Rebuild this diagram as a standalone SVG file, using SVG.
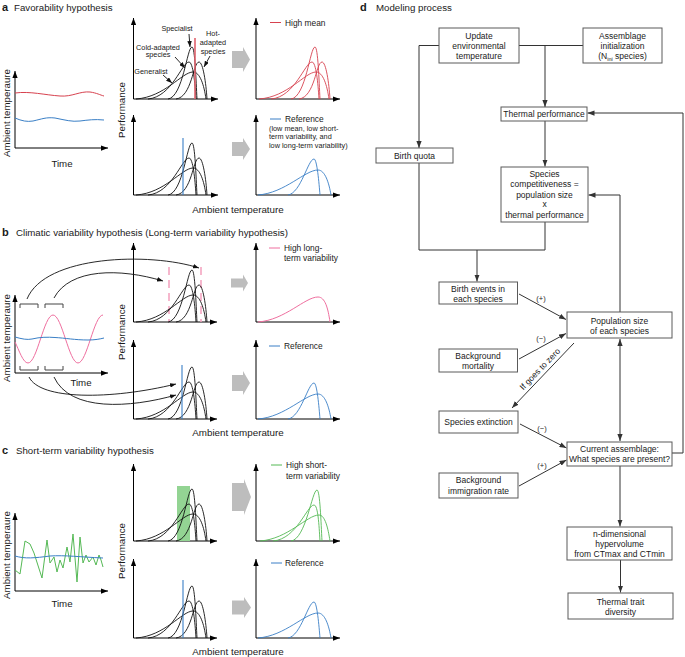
<svg xmlns="http://www.w3.org/2000/svg" width="685" height="657" viewBox="0 0 685 657">
<style>
text { font-family: "Liberation Sans", Arial, sans-serif; fill: #1a1a1a; }
.pl { font-size: 11px; font-weight: bold; }
.t { font-size: 9.7px; }
.ax { font-size: 9.8px; }
.sm { font-size: 7.3px; }
.lg { font-size: 8.4px; }
.bx { font-size: 8.5px; text-anchor: middle; }
.mid { text-anchor: middle; }
.axis { stroke: #000; stroke-width: 1; fill: none; marker-end: url(#ah); }
.thin { fill: none; stroke-width: 0.9; }
.gray { fill: #bdbdbd; }
.box rect { fill: #fff; stroke: #5a5a5a; stroke-width: 1; }
.cn { fill: none; stroke: #333; stroke-width: 1; }
.arr { marker-end: url(#dh); }
.lab { fill: none; stroke: #111; stroke-width: 0.9; marker-end: url(#sh); }
</style>
<defs>
<marker id="ah" viewBox="0 0 8 6" refX="8" refY="3" markerWidth="7" markerHeight="5.5" orient="auto" markerUnits="userSpaceOnUse"><path d="M0,0 L8,3 L0,6 z" fill="#000"/></marker>
<marker id="dh" viewBox="0 0 8 6" refX="8" refY="3" markerWidth="7" markerHeight="5.5" orient="auto-start-reverse" markerUnits="userSpaceOnUse"><path d="M0,0 L8,3 L0,6 z" fill="#333"/></marker>
<marker id="sh" viewBox="0 0 8 6" refX="8" refY="3" markerWidth="6" markerHeight="4.5" orient="auto" markerUnits="userSpaceOnUse"><path d="M0,0 L8,3 L0,6 z" fill="#111"/></marker>
<g id="c4" fill="none">
<path d="M136,0 C165,-2 182,-27 193,-27 C200,-27 204,-14 206,0"/>
<path d="M148,0 C172,-2 182,-37 189,-37 C193,-37 195,-16 196,0"/>
<path d="M168,0 C183,-2 187,-52 192,-52 C195,-52 196,-18 197,0"/>
<path d="M176,0 C192,-2 193,-37 199,-37 C203,-37 206,-16 207,0"/>
</g>
<g id="c2" fill="none">
<path d="M165,0 C178,-2 185,-36 191,-36 C194,-36 196,-12 197,0"/>
<path d="M135,0 C162,-2 182,-25 195,-25 C202,-25 206,-12 208,0"/>
</g>
<g id="c3" fill="none">
<path d="M168,0 C183,-2 189,-51 194,-51 C197,-51 198,-18 199,0"/>
<path d="M150,0 C174,-2 184,-36 191,-36 C195,-36 196,-16 197,0"/>
<path d="M137,0 C165,-2 184,-26 196,-26 C202,-26 205,-13 207,0"/>
</g>
</defs>

<!-- Panel a -->
<g id="panel-a">
<text x="2" y="11" class="pl">a</text>
<text x="14" y="11" class="t">Favorability hypothesis</text>
<path class="axis" d="M15,148 V71"/><path class="axis" d="M15,148 H108"/>
<path d="M15,93 C30,91 45,95 60,96 C72,97 80,91 90,92 C97,93 100,95 104,96" fill="none" stroke="#d7424f" stroke-width="1"/>
<path d="M15,118 C22,121 27,122 33,121 C42,119 46,117 55,118 C65,120 72,122 80,121 C88,120 95,119 104,120" fill="none" stroke="#3a7fc6" stroke-width="1"/>
<text class="t" transform="translate(9.5,113) rotate(-90)" text-anchor="middle">Ambient temperaure</text>
<text x="62" y="166.5" class="t mid">Time</text>
<path class="axis" d="M133.5,99 V18"/><path class="axis" d="M133.5,99 H218"/>
<path class="axis" d="M133.5,195 V115"/><path class="axis" d="M133.5,195 H218"/>
<path class="axis" d="M256,99 V18"/><path class="axis" d="M256,99 H340"/>
<path class="axis" d="M256,195 V115"/><path class="axis" d="M256,195 H340"/>
<use href="#c4" transform="translate(0,99)" stroke="#111" stroke-width="0.9"/>
<line x1="195" y1="38" x2="195" y2="99" stroke="#e0626d" stroke-width="1.6"/>
<use href="#c4" transform="translate(0,195)" stroke="#111" stroke-width="0.9"/>
<line x1="183" y1="138" x2="183" y2="195" stroke="#3a7fc6" stroke-width="1.1"/>
<text x="177" y="31" class="sm mid">Specialist</text>
<text x="158" y="49.5" class="sm mid">Cold-adapted</text>
<text x="158" y="57" class="sm mid">species</text>
<text x="151" y="73.5" class="sm mid">Generalist</text>
<text x="213" y="35.5" class="sm mid">Hot-</text>
<text x="213" y="44.5" class="sm mid">adapted</text>
<text x="213" y="53.5" class="sm mid">species</text>
<path class="lab" d="M189,34 L190,47"/>
<path class="lab" d="M175,57 L185,68"/>
<path class="lab" d="M163,75 L172,83"/>
<path class="lab" d="M210,56 L204,67"/>
<polygon class="gray" points="232,51 243,51 243,47 250,59.5 243,72 243,68 232,68"/>
<polygon class="gray" points="232,142 243,142 243,138 250,149 243,160 243,156 232,156"/>
<use href="#c4" transform="translate(123,99)" stroke="#d7424f" stroke-width="0.9"/>
<line x1="270" y1="22.5" x2="281" y2="22.5" stroke="#d7424f" stroke-width="1"/>
<text x="285" y="25.5" class="lg">High mean</text>
<use href="#c2" transform="translate(123,195)" stroke="#3a7fc6" stroke-width="0.9"/>
<line x1="270" y1="119" x2="281" y2="119" stroke="#3a7fc6" stroke-width="1"/>
<text x="285" y="122" class="lg">Reference</text>
<text x="269" y="130.5" class="sm">(low mean, low short-</text>
<text x="269" y="139" class="sm">term variability, and</text>
<text x="269" y="147.5" class="sm">low long-term variability)</text>
<text class="ax" transform="translate(125,110) rotate(-90)" text-anchor="middle">Performance</text>
<text x="238" y="212.5" class="ax mid">Ambient temperature</text>
</g>

<!-- Panel b -->
<g id="panel-b">
<text x="2" y="235.5" class="pl">b</text>
<text x="16" y="235.5" class="t">Climatic variability hypothesis (Long-term variability hypothesis)</text>
<path class="axis" d="M15,373 V295"/><path class="axis" d="M15,373 H108"/>
<path d="M15,342 C19,350 23,363 28,363 C37,363 44,315 53,315 C62,315 69,363 78,363 C87,363 94,315 103,315" fill="none" stroke="#ef6f9f" stroke-width="1"/>
<path d="M15,337 C22,339 27,340 32,339 C40,337 48,337 55,337.5 C65,338 75,340 88,340 C95,340 100,339 104,338" fill="none" stroke="#3a7fc6" stroke-width="1"/>
<path d="M20,308 V304 H38 V308 M45,308 V304 H63 V308" fill="none" stroke="#444" stroke-width="1"/>
<path d="M20,366 V370 H38 V366 M45,366 V370 H63 V366" fill="none" stroke="#444" stroke-width="1"/>
<text class="t" transform="translate(9.5,338) rotate(-90)" text-anchor="middle">Ambient temperaure</text>
<text x="81" y="386" class="t mid">Time</text>
<path class="axis" d="M133.5,322 V243"/><path class="axis" d="M133.5,322 H217"/>
<path class="axis" d="M133.5,419 V340"/><path class="axis" d="M133.5,419 H217"/>
<path class="axis" d="M256,322 V243"/><path class="axis" d="M256,322 H340"/>
<path class="axis" d="M256,419 V340"/><path class="axis" d="M256,419 H340"/>
<line x1="169" y1="267" x2="169" y2="322" stroke="#f4a0bd" stroke-width="1.5" stroke-dasharray="8,5"/>
<line x1="201" y1="267" x2="201" y2="322" stroke="#f4a0bd" stroke-width="1.5" stroke-dasharray="8,5"/>
<use href="#c4" transform="translate(0,322)" stroke="#111" stroke-width="0.9"/>
<use href="#c4" transform="translate(0,419)" stroke="#111" stroke-width="0.9"/>
<line x1="182" y1="365" x2="182" y2="419" stroke="#3a7fc6" stroke-width="1.1"/>
<polygon class="gray" points="231,278.5 243,278.5 243,274.5 248,283 243,291.5 243,287.5 231,287.5"/>
<polygon class="gray" points="232,375 243,375 243,371 250,383 243,395 243,391 232,391"/>
<path d="M258,322 C285,320 305,297 318,297 C325,297 328,308 330,322" fill="none" stroke="#ef6f9f" stroke-width="1"/>
<line x1="269" y1="248" x2="280" y2="248" stroke="#ef6f9f" stroke-width="1"/>
<text x="284" y="251" class="lg">High long-</text>
<text x="284" y="261" class="lg">term variability</text>
<use href="#c2" transform="translate(123,419)" stroke="#3a7fc6" stroke-width="0.9"/>
<line x1="269" y1="346" x2="280" y2="346" stroke="#3a7fc6" stroke-width="1"/>
<text x="284" y="349" class="lg">Reference</text>
<text class="ax" transform="translate(125,332) rotate(-90)" text-anchor="middle">Performance</text>
<text x="238" y="436" class="ax mid">Ambient temperature</text>
</g>

<!-- Panel c -->
<g id="panel-c">
<text x="2" y="453.5" class="pl">c</text>
<text x="16" y="453.5" class="t">Short-term variability hypothesis</text>
<path class="axis" d="M15,591 V513"/><path class="axis" d="M15,591 H108"/>
<path d="M15,570 L20,574 L25,541 L30,544 L34,553 L42,578 L47,540 L50,563 L54,557 L57,572 L60,560 L63,568 L67,547 L70,562 L73,534 L77,582 L80,537 L83,563 L86,555 L89,562 L93,557 L96,565 L99,555 L101,560 L103,567" fill="none" stroke="#55b955" stroke-width="1"/>
<path d="M15,556 C25,559 35,558 50,556 C65,555 80,557 103,558" fill="none" stroke="#3a7fc6" stroke-width="1"/>
<text class="t" transform="translate(9.5,555) rotate(-90)" text-anchor="middle">Ambient temperaure</text>
<text x="62" y="606.5" class="t mid">Time</text>
<path class="axis" d="M133.5,541 V464"/><path class="axis" d="M133.5,541 H217"/>
<path class="axis" d="M133.5,638 V559"/><path class="axis" d="M133.5,638 H217"/>
<path class="axis" d="M256,541 V464"/><path class="axis" d="M256,541 H340"/>
<path class="axis" d="M256,638 V559"/><path class="axis" d="M256,638 H340"/>
<rect x="177" y="486" width="13" height="55" fill="#93d493"/>
<use href="#c4" transform="translate(0,541)" stroke="#111" stroke-width="0.9"/>
<use href="#c4" transform="translate(0,638)" stroke="#111" stroke-width="0.9"/>
<line x1="183" y1="580" x2="183" y2="638" stroke="#3a7fc6" stroke-width="1.1"/>
<polygon class="gray" points="232,483 244,483 244,479 251,497 244,515 244,511 232,511"/>
<polygon class="gray" points="232,600.5 244,600.5 244,597 251,607.5 244,618 244,614.5 232,614.5"/>
<use href="#c3" transform="translate(123,541)" stroke="#55b955" stroke-width="0.9"/>
<line x1="271" y1="465" x2="282" y2="465" stroke="#55b955" stroke-width="1"/>
<text x="286" y="468" class="lg">High short-</text>
<text x="286" y="478.5" class="lg">term variability</text>
<use href="#c2" transform="translate(123,638)" stroke="#3a7fc6" stroke-width="0.9"/>
<line x1="271" y1="563" x2="282" y2="563" stroke="#3a7fc6" stroke-width="1"/>
<text x="285" y="566" class="lg">Reference</text>
<text class="ax" transform="translate(125,551) rotate(-90)" text-anchor="middle">Performance</text>
<text x="238" y="654.5" class="ax mid">Ambient temperature</text>
</g>

<!-- Panel b arcs -->
<g id="arcs" fill="none" stroke="#111" stroke-width="0.9">
<path d="M27,299 C45,255 150,252 199,268" marker-end="url(#sh)"/>
<path d="M54,298 C70,268 120,268 163,281" marker-end="url(#sh)"/>
<path d="M29,377 C40,400 110,400 176,384" marker-end="url(#sh)"/>
<path d="M54,377 C70,412 130,408 176,395" marker-end="url(#sh)"/>
</g>

<!-- Panel d -->
<text x="360" y="11" class="pl">d</text>
<text x="376" y="11" class="t">Modeling process</text>

<g id="connectors">
<path class="cn arr" d="M439,45.5 H419 V148"/>
<path class="cn" d="M519,45.5 H583"/>
<path class="cn arr" d="M545,45.5 V107"/>
<path class="cn arr" d="M545,121 V166.5"/>
<path class="cn" d="M419,163 V250 H545 V222"/>
<path class="cn arr" d="M477,250 V281.5"/>
<path class="cn arr" d="M672,453 H683 V113 H587.5"/>
<path class="cn arr" d="M620,312 V195 H588.5"/>
<path class="cn arr" d="M519,294 L566,319.5"/>
<path class="cn arr" d="M519,359 L566,333.5"/>
<path class="cn arr" d="M574,343 L512,408"/>
<path class="cn arr" d="M520,424 L566.5,448"/>
<path class="cn arr" d="M519,486 L566.5,460"/>
<path class="cn" d="M620,339 V441" marker-start="url(#dh)" marker-end="url(#dh)"/>
<path class="cn arr" d="M620,466 V526.5"/>
<path class="cn arr" d="M620.5,560 V592.5"/>
<text x="541" y="300.5" class="bx" style="font-size:7.5px">(+)</text>
<text x="541" y="340.5" class="bx" style="font-size:7.5px">(−)</text>
<text x="542" y="430.5" class="bx" style="font-size:7.5px">(−)</text>
<text x="542" y="467.5" class="bx" style="font-size:7.5px">(+)</text>
<text class="bx" transform="translate(542,371) rotate(-46)">If goes to zero</text>
</g>

<g id="n-update" class="box"><rect x="439" y="28" width="80" height="35"/>
<text x="479" y="38.7" class="bx">Update</text><text x="479" y="48.9" class="bx">environmental</text><text x="479" y="59.1" class="bx">temperature</text></g>
<g id="n-assemblage" class="box"><rect x="583" y="28" width="79" height="35"/>
<text x="622.5" y="38.7" class="bx">Assemblage</text><text x="622.5" y="48.9" class="bx">initialization</text><text x="622.5" y="59.1" class="bx">(N<tspan dy="1.5" font-size="5.5">ini</tspan><tspan dy="-1.5"> species)</tspan></text></g>
<g id="n-thermal" class="box"><rect x="501" y="107" width="86" height="14"/>
<text x="544" y="116.8" class="bx">Thermal performance</text></g>
<g id="n-birthquota" class="box"><rect x="376" y="148" width="77" height="15"/>
<text x="414.5" y="158.8" class="bx">Birth quota</text></g>
<g id="n-comp" class="box"><rect x="501" y="167" width="87" height="55"/>
<text x="544.5" y="177" class="bx">Species</text><text x="544.5" y="187.3" class="bx">competitiveness =</text><text x="544.5" y="197.6" class="bx">population size</text><text x="544.5" y="207.2" class="bx">x</text><text x="544.5" y="217.6" class="bx">thermal performance</text></g>
<g id="n-birthevents" class="box"><rect x="439" y="282" width="78.5" height="22"/>
<text x="478" y="292" class="bx">Birth events in</text><text x="478" y="302" class="bx">each species</text></g>
<g id="n-population" class="box"><rect x="567" y="312" width="105" height="26"/>
<text x="619.5" y="324" class="bx">Population size</text><text x="619.5" y="333.8" class="bx">of each species</text></g>
<g id="n-mortality" class="box"><rect x="439" y="349" width="78.5" height="23"/>
<text x="478" y="358.7" class="bx">Background</text><text x="478" y="368.7" class="bx">mortality</text></g>
<g id="n-extinction" class="box"><rect x="439" y="411" width="79" height="22"/>
<text x="478.5" y="425" class="bx">Species extinction</text></g>
<g id="n-immigration" class="box"><rect x="439" y="473" width="79" height="25"/>
<text x="478.5" y="483" class="bx">Background</text><text x="478.5" y="493.7" class="bx">immigration rate</text></g>
<g id="n-current" class="box"><rect x="567" y="442" width="105" height="24"/>
<text x="619.5" y="452.3" class="bx">Current assemblage:</text><text x="619.5" y="462.3" class="bx">What species are present?</text></g>
<g id="n-hypervolume" class="box"><rect x="567" y="527" width="105" height="33"/>
<text x="619.5" y="537" class="bx">n-dimensional</text><text x="619.5" y="547" class="bx">hypervolume</text><text x="619.5" y="557" class="bx">from CTmax and CTmin</text></g>
<g id="n-diversity" class="box"><rect x="568" y="593" width="105" height="26"/>
<text x="620.5" y="604.7" class="bx">Thermal trait</text><text x="620.5" y="614.7" class="bx">diversity</text></g>
</svg>
